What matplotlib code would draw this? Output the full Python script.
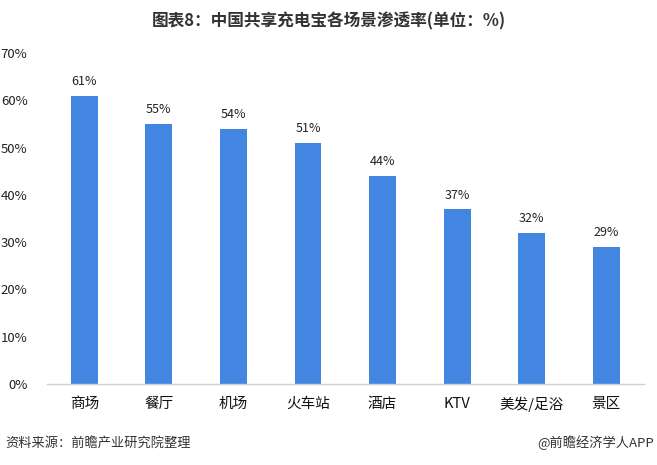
import matplotlib
matplotlib.use("Agg")
import matplotlib.pyplot as plt

plt.rcParams['font.family'] = ['Noto Sans CJK SC', 'DejaVu Sans']

categories = ['商场', '餐厅', '机场', '火车站', '酒店', 'KTV', '美发/足浴', '景区']
values = [61, 55, 54, 51, 44, 37, 32, 29]
yticks = [0, 10, 20, 30, 40, 50, 60, 70]

fig = plt.figure(figsize=(6.57, 4.65), dpi=100)
ax = fig.add_axes([0.0715, 0.174, 0.908, 0.712])

x = range(len(categories))
ax.bar(x, values, width=0.36, color='#4286E2', zorder=2)
for i, v in zip(x, values):
    ax.text(i, v + 1.6, f'{v}%', ha='center', va='bottom', fontsize=9, color='#222222')

ax.set_xlim(-0.5, len(categories) - 0.5)
ax.set_ylim(0, 70)
ax.set_yticks(yticks)
ax.set_yticklabels([f'{t}%' for t in yticks], fontsize=9.5, color='#222222')
ax.set_xticks(list(x))
ax.set_xticklabels(categories, fontsize=10.5, color='#111111')
ax.tick_params(axis='both', length=0)
ax.tick_params(axis='x', pad=9)
ax.tick_params(axis='y', pad=14)
for s in ['top', 'right', 'left']:
    ax.spines[s].set_visible(False)
ax.spines['bottom'].set_color('#d0d0d0')
ax.spines['bottom'].set_linewidth(1.0)

fig.text(0.5, 0.955, '图表8：中国共享充电宝各场景渗透率(单位：%)', ha='center', va='center',
         fontsize=12, fontweight='heavy', color='#333333')
fig.text(0.008, 0.047, '资料来源：前瞻产业研究院整理', ha='left', va='center',
         fontsize=9.5, color='#333333')
fig.text(0.995, 0.047, '@前瞻经济学人APP', ha='right', va='center',
         fontsize=9.5, color='#333333')

fig.savefig('out.png', dpi=100)
